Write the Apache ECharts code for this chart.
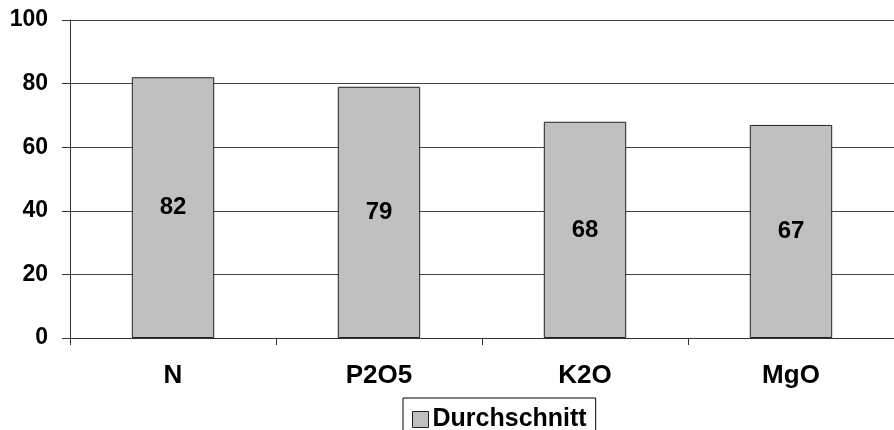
<!DOCTYPE html>
<html>
<head>
<meta charset="utf-8">
<script src="https://cdn.jsdelivr.net/npm/echarts@6/dist/echarts.min.js"></script>
<style>
  html, body { margin: 0; padding: 0; background: #fff; }
  #chart { width: 894px; height: 430px; }
</style>
</head>
<body>
<div id="chart"></div>
<script>
// Nutrient categories and their average values
const categories = ['N', 'P2O5', 'K2O', 'MgO'];
const averageValues = [82, 79, 68, 67];
const seriesName = 'Durchschnitt';
const yTicks = { min: 0, max: 100, interval: 20 };

const FONT = '"Liberation Sans", Arial, sans-serif';

const chart = echarts.init(document.getElementById('chart'), null, { renderer: 'canvas' });
chart.setOption({
  animation: false,
  backgroundColor: '#fff',
  grid: { left: 70, top: 20, right: -8, bottom: 92, containLabel: false },
  legend: {
    data: [seriesName],
    left: 403,
    top: 398,
    orient: 'horizontal',
    borderColor: '#000',
    borderWidth: 1,
    borderRadius: 0,
    padding: [9, 9, 20, 9],
    itemWidth: 16,
    itemHeight: 16,
    itemGap: 4,
    icon: 'rect',
    itemStyle: { color: '#c0c0c0', borderColor: '#222', borderWidth: 1 },
    textStyle: { fontFamily: FONT, fontWeight: 'bold', fontSize: 25, color: '#000', padding: [0, 0, 0, -1] }
  },
  xAxis: {
    type: 'category',
    data: categories,
    axisLine: { show: true, lineStyle: { color: '#333', width: 1 } },
    axisTick: { show: true, length: 7, alignWithLabel: false, lineStyle: { color: '#333' } },
    axisLabel: { margin: 25, fontFamily: FONT, fontWeight: 'bold', fontSize: 26, color: '#000' },
    splitLine: { show: false }
  },
  yAxis: {
    type: 'value',
    min: yTicks.min,
    max: yTicks.max,
    interval: yTicks.interval,
    axisLine: { show: true, lineStyle: { color: '#333', width: 1 } },
    axisTick: { show: true, length: 8, lineStyle: { color: '#333' } },
    axisLabel: { margin: 22, fontFamily: FONT, fontWeight: 'bold', fontSize: 23, color: '#000' },
    splitLine: { show: true, lineStyle: { color: '#444', width: 1 } }
  },
  series: [{
    name: seriesName,
    type: 'bar',
    data: averageValues,
    barWidth: '40%',
    itemStyle: { color: '#c0c0c0', borderColor: '#222', borderWidth: 1 },
    label: {
      show: true,
      position: 'inside',
      fontFamily: FONT,
      fontWeight: 'bold',
      fontSize: 24,
      color: '#000'
    }
  }]
});
</script>
</body>
</html>
